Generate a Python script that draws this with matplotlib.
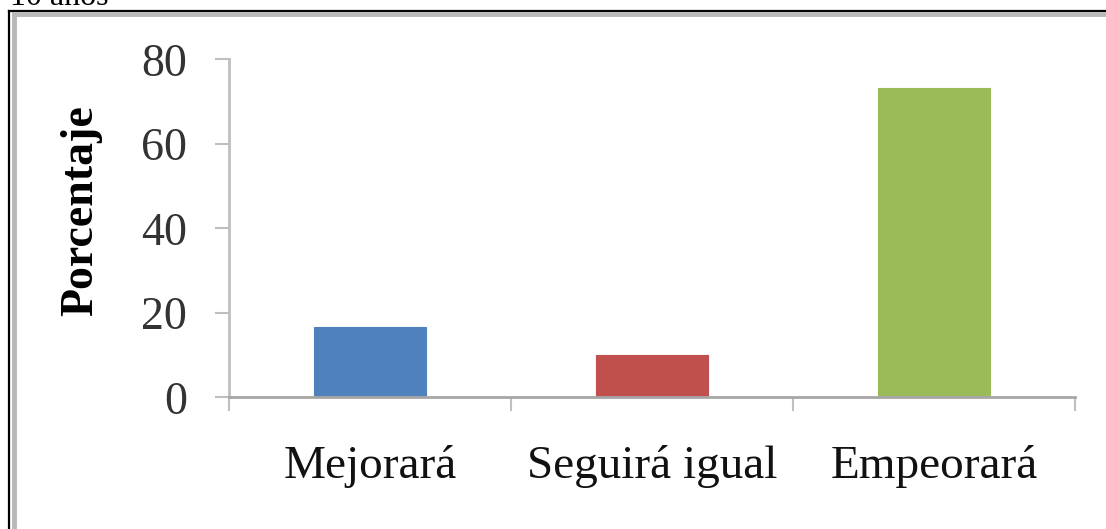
import matplotlib
matplotlib.use("Agg")
import matplotlib.pyplot as plt
from matplotlib.lines import Line2D

# datos
categorias = ["Mejorará", "Seguirá igual", "Empeorará"]
porcentajes = [16.7, 10.0, 73.3]
colores = ["#4F81BD", "#C0504D", "#9BBB59"]
yticks = [0, 20, 40, 60, 80]

W, H = 1106, 529
plt.rcParams['font.family'] = ['Liberation Serif', 'DejaVu Serif']

fig = plt.figure(figsize=(W / 100, H / 100), dpi=100)
fig.patch.set_facecolor("white")

# marco del cuadro (recortado a la derecha y abajo)
def px(x, y):
    return x / W, 1 - y / H

x0, y0 = px(9, 11)
fig.add_artist(Line2D([x0, 1.0], [y0, y0], color="black", lw=1.6, transform=fig.transFigure))
fig.add_artist(Line2D([x0, x0], [0, y0], color="black", lw=1.6, transform=fig.transFigure))
xg, yg = px(13.5, 14)
fig.add_artist(Line2D([xg, 1.0], [yg, yg], color="#B8B8B8", lw=3.5, transform=fig.transFigure))
fig.add_artist(Line2D([xg, xg], [0, yg], color="#B8B8B8", lw=3.5, transform=fig.transFigure))

# texto superior recortado
fig.text(10 / W, 1 - 5 / H, "10 años", fontsize=23, va="baseline", ha="left", color="black")

left, top = px(229, 59.3)
right, bottom = px(1075, 397.3)
ax = fig.add_axes([left, bottom, right - left, top - bottom])

x = list(range(len(categorias)))
ax.bar(x, porcentajes, width=0.4, color=colores, edgecolor=colores, linewidth=0.8, zorder=2)

ax.set_xlim(-0.5, len(categorias) - 0.5)
ax.set_ylim(0, 80)
ax.set_yticks(yticks)
ax.set_yticklabels([str(v) for v in yticks])

# marcas en los limites de categoria, etiquetas centradas
ax.set_xticks([i - 0.5 for i in range(len(categorias) + 1)])
ax.set_xticklabels([])
ax.set_xticks(x, minor=True)
ax.set_xticklabels(categorias, minor=True)
ax.tick_params(axis="x", which="major", direction="out", length=10, width=1.5, color="#BFBFBF")
ax.tick_params(axis="x", which="minor", length=0, pad=34, labelsize=34, labelcolor="#111111")
ax.tick_params(axis="y", direction="out", length=10, width=1.5, color="#BFBFBF",
               pad=20, labelsize=33, labelcolor="#333333")

for s in ["top", "right"]:
    ax.spines[s].set_visible(False)
ax.spines["left"].set_color("#BFBFBF")
ax.spines["left"].set_linewidth(2)
ax.spines["bottom"].set_color("#A6A6A6")
ax.spines["bottom"].set_linewidth(2)

fig.text(81 / W, 1 - 211 / H, "Porcentaje", rotation=90, fontsize=33, fontweight="bold",
         ha="center", va="center", color="black")

fig.savefig("out.png", dpi=100)
